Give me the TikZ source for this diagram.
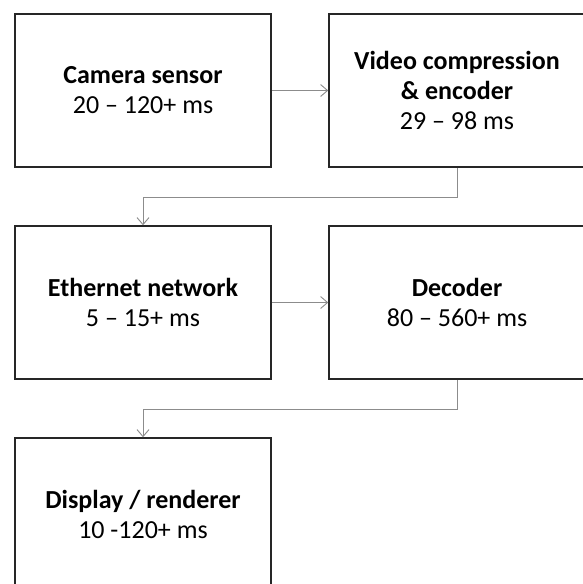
\documentclass[tikz,border=0pt]{standalone}
\usepackage{fontspec}
\setmainfont{Carlito}
\usetikzlibrary{arrows.meta}
\tikzset{
  blockbox/.style={draw=black!85, line width=1.5pt, minimum width=256pt, minimum height=153pt,
    inner sep=0pt, align=center, font=\fontsize{26}{30}\selectfont, text=black},
  conn/.style={draw=black!45, line width=1pt, -{Straight Barb[length=7pt,width=12pt,line width=0.9pt]}}
}
\begin{document}
\begin{tikzpicture}[x=1pt,y=-1pt]
\useasboundingbox (0,0) rectangle (583,584);
\clip (0,0) rectangle (583,584);
\fill[white] (0,0) rectangle (583,584);
\node[blockbox] (cam) at (143,90.5) {\textbf{Camera sensor}\\20 – 120+ ms};
\node[blockbox] (vid) at (457,90.5) {\textbf{Video compression}\\\textbf{\& encoder}\\29 – 98 ms};
\node[blockbox] (eth) at (143,302.5) {\textbf{Ethernet network}\\5 – 15+ ms};
\node[blockbox] (dec) at (457,302.5) {\textbf{Decoder}\\80 – 560+ ms};
\node[blockbox] (dis) at (143,514.5) {\textbf{Display / renderer}\\10 -120+ ms};
\draw[conn] (cam.east) -- (vid.west);
\draw[conn] (vid.south) -- ++(0,29.5) -| (eth.north);
\draw[conn] (eth.east) -- (dec.west);
\draw[conn] (dec.south) -- ++(0,29.5) -| (dis.north);
\end{tikzpicture}
\end{document}
